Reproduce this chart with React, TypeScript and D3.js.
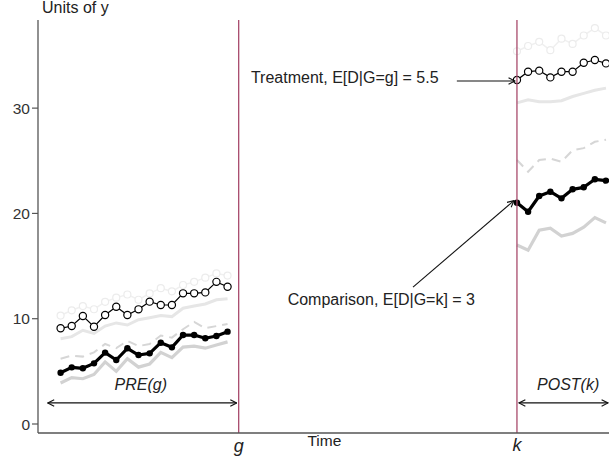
import React from 'react';
import * as d3 from 'd3';

// Time indices
const preTime = [1, 2, 3, 4, 5, 6, 7, 8, 9, 10, 11, 12, 13, 14, 15, 16];
const postTime = [42, 43, 44, 45, 46, 47, 48, 49, 50];
const gTime = 17;
const kTime = 42;

// Treatment group
const treatPre = [9.09, 9.31, 10.26, 9.24, 10.35, 11.14, 10.35, 10.89, 11.62, 11.3, 11.3, 12.41, 12.41, 12.5, 13.5, 13.04];
const treatPost = [32.67, 33.46, 33.56, 32.92, 33.46, 33.46, 34.31, 34.57, 34.25];
const treatHiPre = [10.3, 10.8, 11.2, 10.9, 11.6, 12.0, 12.3, 11.8, 12.4, 12.9, 12.6, 13.2, 13.5, 13.9, 14.3, 14.1];
const treatHiPost = [35.4, 35.9, 36.3, 35.5, 36.6, 36.1, 36.9, 37.6, 36.9];
const treatLoPre = [8.1, 8.3, 8.9, 8.6, 9.3, 9.6, 9.4, 9.9, 10.1, 10.3, 10.2, 11.0, 11.2, 11.4, 11.8, 11.9];
const treatLoPost = [30.5, 30.8, 30.6, 30.6, 30.7, 31.1, 31.4, 31.7, 31.9];

// Comparison group
const compPre = [4.87, 5.38, 5.29, 5.76, 6.78, 6.08, 7.19, 6.55, 6.71, 7.72, 7.28, 8.45, 8.45, 8.14, 8.36, 8.77];
const compPost = [21.02, 20.16, 21.65, 22.06, 21.43, 22.29, 22.48, 23.24, 23.11];
const compHiPre = [6.2, 6.5, 6.4, 6.8, 7.6, 7.2, 7.9, 7.4, 7.6, 8.4, 8.2, 9.0, 9.7, 9.1, 9.3, 9.5];
const compHiPost = [25.07, 23.96, 25.07, 25.2, 24.9, 26.0, 26.2, 26.8, 27.0];
const compLoPre = [3.9, 4.4, 4.3, 4.7, 5.9, 5.0, 6.2, 5.4, 5.7, 6.8, 6.3, 7.3, 7.4, 7.2, 7.5, 7.8];
const compLoPost = [17.0, 16.5, 18.4, 18.6, 17.85, 18.1, 18.7, 19.6, 19.1];

const yTicks = [0, 10, 20, 30];
const yLabel = 'Units of y';
const xLabel = 'Time';
const treatNote = 'Treatment, E[D|G=g] = 5.5';
const compNote = 'Comparison, E[D|G=k] = 3';

export default function App() {
  const W = 609;
  const H = 460;
  const x = d3.scaleLinear().domain([-1.03, 50.27]).range([38, 609]);
  const y = d3.scaleLinear().domain([-0.855, 38.37]).range([433, 20]);
  const line = (ts: number[], vs: number[]) =>
    d3.line()(ts.map((t, i) => [x(t), y(vs[i])] as [number, number])) || '';
  const font = '"Liberation Sans", Arial, Helvetica, sans-serif';
  const axisCol = '#555';
  const vCol = '#a84a6c';

  const seg = (ts: number[], vs: number[], props: any) => <path d={line(ts, vs)} fill="none" {...props} />;

  return (
    <svg width={W} height={H} style={{ position: 'absolute', left: 0, top: 0, background: '#fff' }} fontFamily={font}>
      <defs>
        <marker id="ah" viewBox="0 0 10 10" refX="9" refY="5" markerWidth="8" markerHeight="8" orient="auto-start-reverse" markerUnits="userSpaceOnUse">
          <path d="M1,1 L9,5 L1,9" fill="none" stroke="#111" strokeWidth="1.4" />
        </marker>
      </defs>

      {/* faint upper treatment */}
      {[[preTime, treatHiPre], [postTime, treatHiPost]].map(([ts, vs], j) => (
        <g key={'th' + j}>
          {seg(ts as number[], vs as number[], { stroke: '#f0f0f0', strokeWidth: 1.5 })}
          {(ts as number[]).map((t, i) => (
            <circle key={i} cx={x(t)} cy={y((vs as number[])[i])} r={3.5} fill="#fff" stroke="#ececec" strokeWidth={1.2} />
          ))}
        </g>
      ))}
      {/* lower treatment gray */}
      {seg(preTime, treatLoPre, { stroke: '#e6e6e6', strokeWidth: 3 })}
      {seg(postTime, treatLoPost, { stroke: '#e6e6e6', strokeWidth: 3 })}
      {/* comparison dashed */}
      {seg(preTime, compHiPre, { stroke: '#d6d6d6', strokeWidth: 2, strokeDasharray: '9 6' })}
      {seg(postTime, compHiPost, { stroke: '#d6d6d6', strokeWidth: 2, strokeDasharray: '9 6' })}
      {/* comparison lower gray */}
      {seg(preTime, compLoPre, { stroke: '#d2d2d2', strokeWidth: 3.2 })}
      {seg(postTime, compLoPost, { stroke: '#d2d2d2', strokeWidth: 3.2 })}

      {/* comparison actual */}
      {[[preTime, compPre], [postTime, compPost]].map(([ts, vs], j) => (
        <g key={'c' + j}>
          {seg(ts as number[], vs as number[], { stroke: '#000', strokeWidth: 3.2, strokeLinejoin: 'round' })}
          {(ts as number[]).map((t, i) => (
            <circle key={i} cx={x(t)} cy={y((vs as number[])[i])} r={3.2} fill="#000" />
          ))}
        </g>
      ))}
      {/* treatment actual */}
      {[[preTime, treatPre], [postTime, treatPost]].map(([ts, vs], j) => (
        <g key={'t' + j}>
          {seg(ts as number[], vs as number[], { stroke: '#000', strokeWidth: 1.2 })}
          {(ts as number[]).map((t, i) => (
            <circle key={i} cx={x(t)} cy={y((vs as number[])[i])} r={3.6} fill="#fff" stroke="#000" strokeWidth={1.2} />
          ))}
        </g>
      ))}

      {/* vertical lines at g and k */}
      {[gTime, kTime].map((t) => (
        <line key={t} x1={x(t)} x2={x(t)} y1={y.range()[1]} y2={y.range()[0]} stroke={vCol} strokeWidth={1.3} />
      ))}

      {/* axes */}
      <line x1={x.range()[0]} x2={x.range()[0]} y1={y.range()[1]} y2={y.range()[0]} stroke={axisCol} strokeWidth={1.3} />
      <line x1={x.range()[0]} x2={x.range()[1]} y1={y.range()[0]} y2={y.range()[0]} stroke={axisCol} strokeWidth={1.3} />
      {yTicks.map((v) => (
        <g key={v}>
          <line x1={x.range()[0] - 6} x2={x.range()[0]} y1={y(v)} y2={y(v)} stroke={axisCol} strokeWidth={1.2} />
          <text x={x.range()[0] - 8} y={y(v)} dy="0.36em" textAnchor="end" fontSize={15.5} fill="#333">{v}</text>
        </g>
      ))}
      <text x={42} y={13} fontSize={16} fill="#222">{yLabel}</text>
      <text x={x(24.7)} y={y.range()[0] + 13} fontSize={15.5} fill="#222" textAnchor="middle">{xLabel}</text>
      <text x={x(gTime)} y={y.range()[0] + 19} fontSize={18} fontStyle="italic" fill="#222" textAnchor="middle">g</text>
      <text x={x(kTime)} y={y.range()[0] + 18} fontSize={18} fontStyle="italic" fill="#222" textAnchor="middle">k</text>

      {/* PRE / POST arrows */}
      <line x1={x(-0.15)} x2={x(gTime) - 2} y1={y(2)} y2={y(2)} stroke="#111" strokeWidth={1.2} markerStart="url(#ah)" markerEnd="url(#ah)" />
      <text x={x(8.2)} y={y(3.2)} fontSize={16} fontStyle="italic" fill="#222" textAnchor="middle">PRE(g)</text>
      <line x1={x(kTime) + 2} x2={x.range()[1] - 1} y1={y(2)} y2={y(2)} stroke="#111" strokeWidth={1.2} markerStart="url(#ah)" markerEnd="url(#ah)" />
      <text x={x(46.6)} y={y(3.2)} fontSize={16} fontStyle="italic" fill="#222" textAnchor="middle">POST(k)</text>

      {/* annotations */}
      <text x={x(18.1)} y={y(treatPost[0]) + 3} fontSize={16} fill="#222">{treatNote}</text>
      <line x1={x(36.6)} x2={x(kTime) - 2} y1={y(treatPost[0]) + 1} y2={y(treatPost[0]) + 1} stroke="#111" strokeWidth={1.2} markerEnd="url(#ah)" />
      <text x={x(21.4)} y={y(11.8) + 5} fontSize={16} fill="#222">{compNote}</text>
      <line x1={x(32.66)} y1={y(13.0)} x2={x(kTime) - 3} y2={y(compPost[0]) - 2} stroke="#111" strokeWidth={1.1} markerEnd="url(#ah)" />
    </svg>
  );
}
